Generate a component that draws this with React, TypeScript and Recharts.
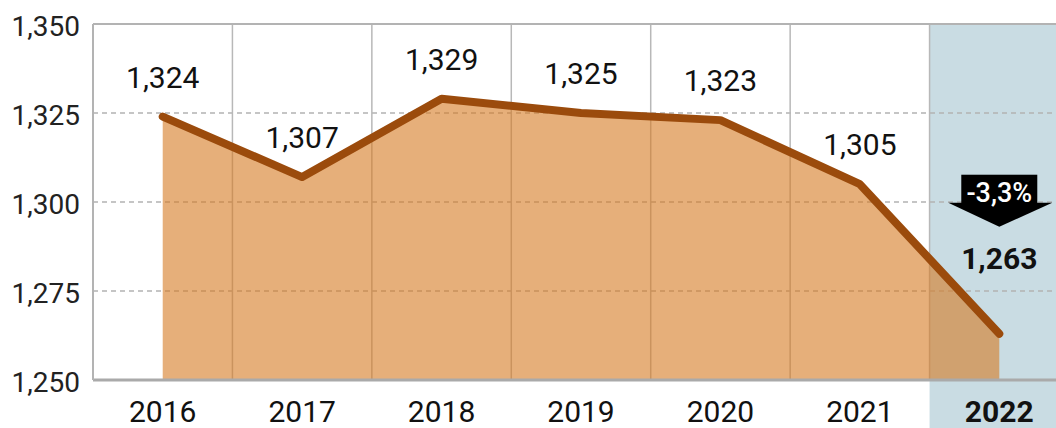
import React from "react";
import {
  AreaChart,
  Area,
  XAxis,
  YAxis,
  CartesianGrid,
  ReferenceLine,
  ReferenceArea,
  LabelList,
} from "recharts";

const years = ["2016", "2017", "2018", "2019", "2020", "2021", "2022"];
const totals = [1324, 1307, 1329, 1325, 1323, 1305, 1263];
const yTicks = [1250, 1275, 1300, 1325, 1350];
const highlightYear = "2022";
const changeLabel = "-3,3%";

const data = years.map((year, i) => ({ year, total: totals[i] }));

const FONT = "Roboto, 'Noto Sans', sans-serif";
const fmt = (v: number) => v.toLocaleString("en-US");

function YearTick({ x, y, payload }: any) {
  const hl = payload.value === highlightYear;
  return (
    <text x={x} y={y + 42} textAnchor="middle" fontFamily={FONT} fontSize={30} fontWeight={hl ? 700 : 400} fill="#111">
      {payload.value}
    </text>
  );
}

function ValueTick({ x, y, payload }: any) {
  return (
    <text x={x} y={y + 12} textAnchor="end" fontFamily={FONT} fontSize={28} fill="#222">
      {fmt(payload.value)}
    </text>
  );
}

function PointLabel(props: any) {
  const x = props.x ?? props.viewBox?.x;
  const y = props.y ?? props.viewBox?.y;
  const { value, index } = props;
  if (index === totals.length - 1) {
    return (
      <g fontFamily={FONT}>
        <rect x={x - 38} y={y - 159} width={76} height={29} fill="#000" />
        <polygon points={`${x - 51},${y - 131} ${x + 53},${y - 131} ${x},${y - 107}`} fill="#000" />
        <text x={x} y={y - 132} textAnchor="middle" fill="#fff" fontSize={27} fontWeight={500}>
          {changeLabel}
        </text>
        <text x={x} y={y - 65} textAnchor="middle" fill="#111" fontSize={30} fontWeight={700}>
          {fmt(value)}
        </text>
      </g>
    );
  }
  return (
    <text x={x} y={y - 29} textAnchor="middle" fontFamily={FONT} fill="#111" fontSize={30}>
      {fmt(value)}
    </text>
  );
}

export default function App() {
  return (
    <div style={{ position: "fixed", left: 0, top: 0, width: 1056, height: 428, overflow: "hidden", background: "#fff" }}>
      <AreaChart width={1069} height={428} data={data} margin={{ top: 24, right: 0, bottom: 0, left: 0 }}>
        <ReferenceArea
          x1={highlightYear}
          x2={highlightYear}
          y1={1250}
          y2={1350}
          zIndex={-200}
          shape={(p: any) => <rect x={p.x} y={p.y} width={p.width} height={p.height + 48} fill="#c9dce3" />}
        />
        <CartesianGrid vertical={false} stroke="#b3b3b3" strokeWidth={1.5} strokeDasharray="5 4" />
        {years.slice(1).map((yr) => (
          <ReferenceLine key={yr} x={yr} position="start" stroke="#b8b8b8" strokeWidth={1.5} zIndex={-50} />
        ))}
        <ReferenceLine y={1350} stroke="#b3b3b3" strokeWidth={2} zIndex={-50} />
        <XAxis
          dataKey="year"
          scale="band"
          height={48}
          tickSize={0}
          tickMargin={0}
          axisLine={{ stroke: "#aaa", strokeWidth: 3 }}
          tick={<YearTick />}
          interval={0}
        />
        <YAxis
          width={93}
          domain={[1250, 1350]}
          ticks={yTicks}
          tickSize={0}
          tickMargin={13}
          axisLine={{ stroke: "#b3b3b3", strokeWidth: 2 }}
          tick={<ValueTick />}
        />
        <Area
          type="linear"
          dataKey="total"
          stroke="#9b4b0c"
          strokeWidth={8}
          strokeLinejoin="round"
          strokeLinecap="round"
          fill="#d67a22"
          fillOpacity={0.6}
          dot={false}
          activeDot={false}
          isAnimationActive={false}
        >
          <LabelList dataKey="total" content={<PointLabel />} />
        </Area>
      </AreaChart>
    </div>
  );
}
